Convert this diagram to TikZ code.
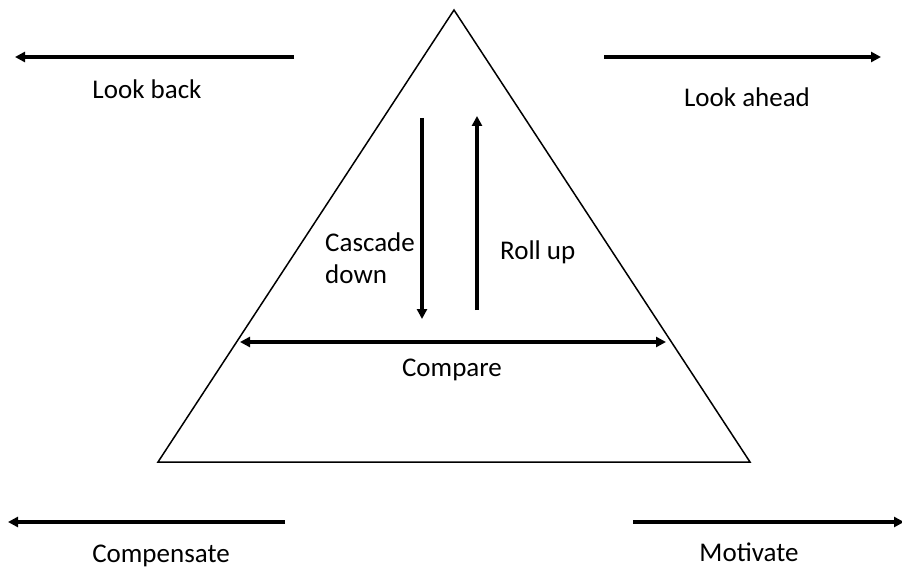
\documentclass[tikz,border=0pt]{standalone}
\usepackage{fontspec}
\setmainfont{Carlito}
\usetikzlibrary{arrows.meta}
\begin{document}
\begin{tikzpicture}[x=1pt,y=-1pt,
  flow/.style={line width=3.2pt,-{Triangle[length=10pt,width=10pt]}},
  twoway/.style={line width=3.2pt,{Triangle[length=10pt,width=10pt]}-{Triangle[length=10pt,width=10pt]}},
  edge/.style={line width=1.5pt,line join=miter},
  lbl/.style={font=\fontsize{27}{32}\selectfont,inner sep=0pt}]
\useasboundingbox (0,0) rectangle (902,569);
% pyramid
\coordinate (apex) at (454,10);
\coordinate (bl) at (158,462);
\coordinate (br) at (750,462);
\draw[edge] (apex) -- (br) -- (bl) -- cycle;
% top arrows
\coordinate (lbS) at (294,57); \coordinate (lbE) at (15,57);
\coordinate (laS) at (604,57); \coordinate (laE) at (881,57);
\draw[flow] (lbS) -- (lbE);
\draw[flow] (laS) -- (laE);
\node[lbl] (lookback) at (147,89) {Look back};
\node[lbl] (lookahead) at (747,97) {Look ahead};
% bottom arrows
\coordinate (cpS) at (285,522); \coordinate (cpE) at (8,522);
\coordinate (mvS) at (633,522); \coordinate (mvE) at (904,522);
\draw[flow] (cpS) -- (cpE);
\draw[flow] (mvS) -- (mvE);
\node[lbl] (compensate) at (161,556) {Compensate};
\node[lbl] (motivate) at (749,552) {Motivate};
% inner arrows
\coordinate (cdS) at (422,118); \coordinate (cdE) at (422,319);
\coordinate (ruS) at (477,310); \coordinate (ruE) at (477,116);
\draw[flow] (cdS) -- (cdE);
\draw[flow] (ruS) -- (ruE);
\node[lbl,align=left,anchor=west] (cascade) at (325,258) {Cascade\\down};
\node[lbl,anchor=west] (rollup) at (500,252) {Roll up};
\coordinate (cmL) at (240,342); \coordinate (cmR) at (666,342);
\draw[twoway] (cmL) -- (cmR);
\node[lbl] (compare) at (452,370) {Compare};
\end{tikzpicture}
\end{document}
